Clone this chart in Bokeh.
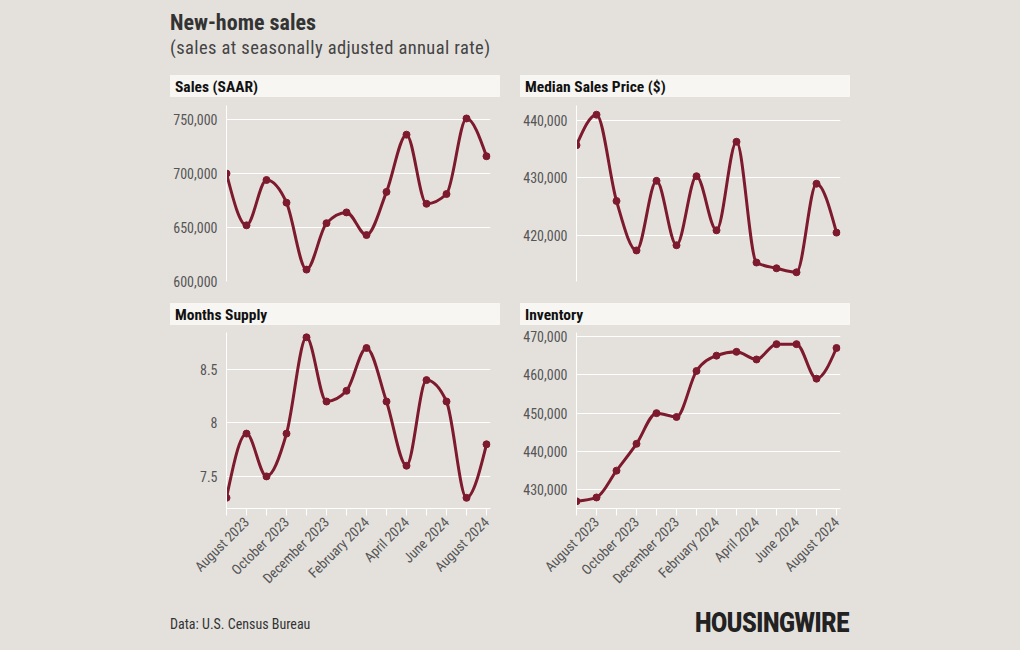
import math
import numpy as np
from bokeh.plotting import figure
from bokeh.layouts import column, row
from bokeh.models import Div, Spacer, FixedTicker, NumeralTickFormatter, Range1d, ColumnDataSource
from bokeh.embed import file_html
from bokeh.resources import INLINE

# ---------------- data ----------------
months = ["July 2023", "August 2023", "September 2023", "October 2023", "November 2023",
          "December 2023", "January 2024", "February 2024", "March 2024", "April 2024",
          "May 2024", "June 2024", "July 2024", "August 2024"]
sales = [700000, 652000, 694000, 673000, 611000, 654000, 664000, 643000, 683000, 736000,
         672000, 681000, 751000, 716000]
price = [435700, 441000, 426000, 417400, 429500, 418300, 430300, 420900, 436300, 415300,
         414300, 413600, 429000, 420500]
supply = [7.3, 7.9, 7.5, 7.9, 8.8, 8.2, 8.3, 8.7, 8.2, 7.6, 8.4, 8.2, 7.3, 7.8]
inventory = [427000, 428000, 435000, 442000, 450000, 449000, 461000, 465000, 466000, 464000,
             468000, 468000, 459000, 467000]

sales_ticks = [600000, 650000, 700000, 750000]
price_ticks = [420000, 430000, 440000]
supply_ticks = [7.5, 8, 8.5]
inventory_ticks = [430000, 440000, 450000, 460000, 470000]

# ---------------- style ----------------
BG = "#e4e1dd"
HEAD_BG = "#f7f6f3"
LINE = "#7d1a2d"
FONT = "Roboto Condensed"
CSS_FONT = "'Roboto Condensed', Roboto, sans-serif"


def monotone_segments(xs, ys):
    """Cubic Bezier segments of a monotone-x curve (as d3.curveMonotoneX)."""
    x = np.asarray(xs, float)
    y = np.asarray(ys, float)
    n = len(x)
    h = np.diff(x)
    s = np.diff(y) / h
    t = np.zeros(n)
    for i in range(1, n - 1):
        h0, h1 = h[i - 1], h[i]
        s0, s1 = s[i - 1], s[i]
        pp = (s0 * h1 + s1 * h0) / (h0 + h1)
        t[i] = (np.sign(s0) + np.sign(s1)) * min(abs(s0), abs(s1), 0.5 * abs(pp))
    t[0] = (3 * s[0] - t[1]) / 2
    t[-1] = (3 * s[-1] - t[-2]) / 2
    d = h / 3
    return dict(x0=x[:-1], y0=y[:-1], x1=x[1:], y1=y[1:],
                cx0=x[:-1] + d, cy0=y[:-1] + d * t[:-1],
                cx1=x[1:] - d, cy1=y[1:] - d * t[1:])


def panel(vals, y0, y1, yticks, fmt, bottom, height, border_top, border_bottom):
    idx = list(range(len(months)))
    p = figure(width=330, height=height, x_range=Range1d(0, 13.2), y_range=Range1d(y0, y1),
               output_backend="svg", toolbar_location=None, tools="",
               min_border_left=56, min_border_right=10,
               min_border_top=border_top, min_border_bottom=border_bottom,
               background_fill_color=BG, border_fill_color=BG, outline_line_color=None, margin=0)
    p.xgrid.visible = False
    p.ygrid.grid_line_color = "white"
    p.ygrid.grid_line_width = 1
    ya = p.yaxis[0]
    ya.ticker = FixedTicker(ticks=yticks)
    ya.formatter = fmt
    ya.axis_line_color = "white"
    ya.major_tick_line_color = None
    ya.minor_tick_line_color = None
    ya.major_tick_out = 0
    ya.major_tick_in = 0
    ya.minor_tick_out = 0
    ya.minor_tick_in = 0
    ya.major_label_standoff = 9
    ya.major_label_text_font = FONT
    ya.major_label_text_font_size = "14px"
    ya.major_label_text_color = "#555555"
    xa = p.xaxis[0]
    if bottom:
        xa.ticker = FixedTicker(ticks=idx)
        xa.major_label_overrides = {i: (m if i % 2 == 1 else "") for i, m in enumerate(months)}
        xa.major_label_orientation = math.pi / 4
        xa.axis_line_color = "white"
        xa.major_tick_line_color = "white"
        xa.major_tick_out = 7
        xa.major_tick_in = 0
        xa.minor_tick_line_color = None
        xa.minor_tick_out = 0
        xa.minor_tick_in = 0
        xa.major_label_standoff = 4
        xa.major_label_text_font = FONT
        xa.major_label_text_font_size = "14px"
        xa.major_label_text_color = "#555555"
    else:
        xa.visible = False

    seg = ColumnDataSource(monotone_segments(idx, vals))
    p.bezier(x0="x0", y0="y0", x1="x1", y1="y1", cx0="cx0", cy0="cy0", cx1="cx1", cy1="cy1",
             source=seg, line_color=LINE, line_width=3, line_cap="round")
    p.scatter(x=idx, y=vals, size=7, fill_color=LINE, line_color=LINE)
    return p


def header(text):
    html = (f'<div style="width:330px;height:22px;background:{HEAD_BG};padding-left:5px;'
            f'box-sizing:border-box;font-family:{CSS_FONT};font-weight:700;font-size:15.5px;'
            f'line-height:25px;color:#111;white-space:nowrap;overflow:visible">{text}</div>')
    return Div(text=html, width=330, height=22, margin=0)


p_sales = panel(sales, 600000, 763000, sales_ticks, NumeralTickFormatter(format="0,0"), False, 206, 8, 22)
p_price = panel(price, 412000, 442600, price_ticks, NumeralTickFormatter(format="0,0"), False, 206, 8, 22)
p_supply = panel(supply, 7.2, 8.845, supply_ticks, NumeralTickFormatter(format="0.[0]"), True, 275, 7, 92)
p_inv = panel(inventory, 425120, 471040, inventory_ticks, NumeralTickFormatter(format="0,0"), True, 275, 7, 92)

title_html = (
    f'<div style="position:relative;width:1012px;height:75px;font-family:{CSS_FONT};">'
    f'<div style="position:absolute;left:170px;top:12px;font-size:22px;font-weight:700;'
    f'line-height:22px;color:#333;white-space:nowrap">New-home sales</div>'
    f'<div style="position:absolute;left:170px;top:38px;font-size:18.5px;line-height:20px;'
    f'letter-spacing:0.4px;color:#444;white-space:nowrap">(sales at seasonally adjusted annual rate)</div>'
    f'</div>')
title_div = Div(text=title_html, width=1012, height=75, margin=0)

footer_html = (
    f'<div style="position:relative;width:1012px;height:47px;font-family:{CSS_FONT};">'
    f'<div style="position:absolute;left:170px;top:16px;font-size:14px;line-height:16px;'
    f'color:#333;white-space:nowrap">Data: U.S. Census Bureau</div>'
    f'<div style="position:absolute;left:695px;top:8px;font-family:Roboto, sans-serif;font-size:27px;'
    f'font-weight:900;line-height:30px;color:#222;white-space:nowrap;transform:scaleX(0.87);'
    f'transform-origin:left top;letter-spacing:-0.5px">HOUSINGWIRE</div>'
    f'</div>')
footer_div = Div(text=footer_html, width=1012, height=47, margin=0)

top_row = row(Spacer(width=170, height=10, margin=0),
              column(header("Sales (SAAR)"), p_sales, margin=0, spacing=0),
              Spacer(width=20, height=10, margin=0),
              column(header("Median Sales Price ($)"), p_price, margin=0, spacing=0),
              margin=0, spacing=0)
bottom_row = row(Spacer(width=170, height=10, margin=0),
                 column(header("Months Supply"), p_supply, margin=0, spacing=0),
                 Spacer(width=20, height=10, margin=0),
                 column(header("Inventory"), p_inv, margin=0, spacing=0),
                 margin=0, spacing=0)

layout = column(title_div, top_row, bottom_row, footer_div, margin=0, spacing=0,
                styles={"background-color": BG})

template = """
{% block postamble %}
<style>html, body { background: #e4e1dd; }</style>
{% endblock %}
"""

open("out.html", "w").write(file_html(layout, INLINE, title="New-home sales", template=template))
